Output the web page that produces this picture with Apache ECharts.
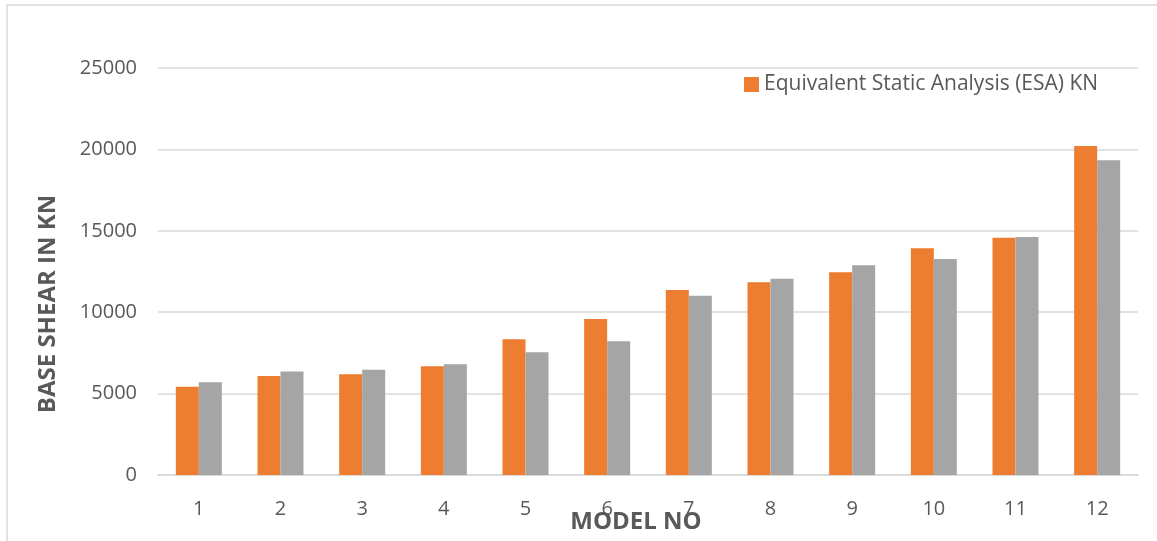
<!DOCTYPE html>
<html>
<head>
<meta charset="utf-8">
<script src="https://cdn.jsdelivr.net/npm/echarts@6/dist/echarts.min.js"></script>
<style>
html,body{margin:0;padding:0;background:#fff;}
#c{width:1157px;height:541px;}
</style>
</head>
<body>
<div id="c"></div>
<script>
var categories = ['1','2','3','4','5','6','7','8','9','10','11','12'];
var esaValues = [5420, 6080, 6185, 6675, 8335, 9580, 11360, 11835, 12450, 13925, 14580, 20210];
var rsaValues = [5690, 6350, 6470, 6800, 7535, 8210, 11015, 12060, 12880, 13270, 14620, 19330];
var yTicks = [0, 5000, 10000, 15000, 20000, 25000];
var esaName = 'Equivalent Static Analysis (ESA) KN';
var rsaName = 'Response Spectrum Analysis (RSA) KN';
var xTitle = 'MODEL NO';
var yTitle = 'BASE SHEAR IN KN';

var FONT = 'Open Sans';
var chart = echarts.init(document.getElementById('c'), null, {renderer:'canvas'});
chart.setOption({
  animation: false,
  backgroundColor: '#ffffff',
  textStyle: {fontFamily: FONT},
  grid: {left: 158, right: 19, top: 68, bottom: 66, containLabel: false},
  legend: {
    data: [esaName],
    left: 739, top: 69,
    itemWidth: 15, itemHeight: 15, itemGap: 5,
    icon: 'rect',
    textStyle: {color: '#595959', fontSize: 21, fontFamily: FONT}
  },
  xAxis: {
    type: 'category',
    data: categories,
    axisLine: {show: true, lineStyle: {color: '#D9D9D9', width: 1.5}},
    axisTick: {show: false},
    axisLabel: {color: '#595959', fontSize: 20, margin: 24, fontFamily: FONT}
  },
  yAxis: {
    type: 'value',
    min: yTicks[0], max: yTicks[yTicks.length-1], interval: yTicks[1]-yTicks[0],
    axisLine: {show: false},
    axisTick: {show: false},
    splitLine: {lineStyle: {color: '#D9D9D9', width: 1.5}},
    axisLabel: {color: '#595959', fontSize: 20, margin: 21, fontFamily: FONT,
      formatter: function (v) { return String(v); }}
  },
  series: [
    {name: esaName, type: 'bar', data: esaValues, barWidth: 23, barGap: '0%',
     itemStyle: {color: '#ED7D31'}},
    {name: rsaName, type: 'bar', data: rsaValues, barWidth: 23, barGap: '0%',
     itemStyle: {color: '#A5A5A5'}}
  ],
  graphic: [
    {type: 'rect', shape: {x: 7, y: 5, width: 1200, height: 600}, silent: true,
     style: {fill: 'none', stroke: '#D9D9D9', lineWidth: 1.5}, z: -10},
    {type: 'text', x: 636, y: 522,
     style: {text: xTitle, fill: '#595959', font: 'bold 24px "Open Sans"', align: 'center', verticalAlign: 'middle'}},
    {type: 'text', x: 48, y: 304, rotation: Math.PI/2,
     style: {text: yTitle, fill: '#595959', font: 'bold 24px "Open Sans"', align: 'center', verticalAlign: 'middle'}}
  ]
});
</script>
</body>
</html>
